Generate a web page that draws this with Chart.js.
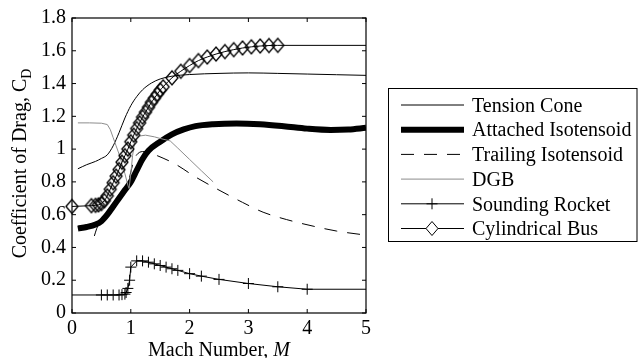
<!DOCTYPE html>
<html><head><meta charset="utf-8">
<script src="https://cdn.jsdelivr.net/npm/chart.js@4/dist/chart.umd.min.js"></script>
<style>html,body{margin:0;padding:0;background:#fff;}canvas{display:block;}</style>
</head><body>
<canvas id="c" width="638" height="358"></canvas>
<script>
// ---------------- data ----------------
const seriesNames = ['Tension Cone','Attached Isotensoid','Trailing Isotensoid','DGB','Sounding Rocket','Cylindrical Bus'];
const xTickValues = [0,1,2,3,4,5];
const xTickLabels = ['0','1','2','3','4','5'];
const yTickValues = [0,0.2,0.4,0.6,0.8,1.0,1.2,1.4,1.6,1.8];
const yTickLabels = ['0','0.2','0.4','0.6','0.8','1','1.2','1.4','1.6','1.8'];

const machTension = [0.1,0.25,0.4,0.5,0.6,0.7,0.8,0.9,1.0,1.1,1.2,1.35,1.5,1.7,2.0,2.5,3.0,3.5,4.0,4.5,5.0];
const cdTension   = [0.88,0.905,0.925,0.943,0.965,1.02,1.1,1.19,1.265,1.32,1.362,1.403,1.428,1.445,1.455,1.462,1.465,1.462,1.458,1.454,1.45];

const machAttached = [0.1,0.25,0.4,0.5,0.6,0.7,0.8,0.9,1.0,1.1,1.2,1.3,1.5,1.7,1.9,2.1,2.4,2.8,3.2,3.6,4.0,4.4,4.7,5.0];
const cdAttached   = [0.515,0.525,0.54,0.56,0.6,0.65,0.7,0.75,0.8,0.87,0.94,0.99,1.045,1.09,1.12,1.14,1.152,1.157,1.152,1.14,1.125,1.117,1.12,1.13];

const machTrailing = [0.38,0.42,0.46,0.55,0.65,0.75,0.85,0.95,1.0,1.05,1.1,1.2,1.3,1.45,1.75,2.1,2.5,2.9,3.25,3.65,4.1,4.5,5.0];
const cdTrailing   = [0.47,0.515,0.545,0.575,0.625,0.68,0.73,0.79,0.86,0.93,0.965,0.985,0.98,0.96,0.91,0.83,0.75,0.675,0.615,0.57,0.53,0.5,0.475];

const machDGB = [0.1,0.3,0.5,0.6,0.65,0.7,0.75,0.8,0.85,0.9,0.95,0.97,1.0,1.03,1.06,1.1,1.15,1.25,1.4,1.5,1.67,1.8,2.0,2.2,2.4];
const cdDGB   = [1.16,1.16,1.158,1.15,1.12,1.07,1.02,0.97,0.91,0.85,0.78,0.76,0.85,0.96,1.03,1.065,1.08,1.085,1.075,1.065,1.05,1.006,0.937,0.868,0.8];

const machRocket = [0,0.5,0.6,0.7,0.8,0.85,0.9,0.92,0.95,0.98,1.0,1.1,1.2,1.3,1.4,1.5,1.6,1.7,1.8,2.0,2.2,2.5,3.0,3.5,4.0,5.0];
const cdRocket   = [0.11,0.11,0.11,0.11,0.11,0.112,0.115,0.125,0.15,0.2,0.28,0.318,0.318,0.31,0.3,0.29,0.28,0.27,0.26,0.24,0.225,0.205,0.18,0.16,0.145,0.145];

const machBus = [0,0.33,0.4,0.45,0.5,0.55,0.6,0.65,0.7,0.75,0.8,0.85,0.9,0.95,1.0,1.05,1.1,1.15,1.2,1.25,1.3,1.35,1.4,1.45,1.5,1.55,1.7,1.85,2.0,2.15,2.3,2.45,2.6,2.75,2.9,3.05,3.2,3.35,3.5,5.0];
const cdBus   = [0.65,0.655,0.657,0.66,0.668,0.685,0.715,0.755,0.795,0.835,0.875,0.92,0.96,1.0,1.045,1.085,1.125,1.16,1.195,1.225,1.255,1.285,1.31,1.335,1.36,1.38,1.435,1.475,1.51,1.54,1.562,1.58,1.595,1.607,1.617,1.624,1.629,1.632,1.633,1.633];

// ---------------- helpers ----------------
const pts = (xs, ys) => xs.map((x, i) => ({x, y: ys[i]}));
const SERIF = "'Liberation Serif','Times New Roman','DejaVu Serif',serif";
const endsHidden = (r) => (c) => (c.dataIndex === 0 || c.dataIndex === c.dataset.data.length - 1) ? 0 : r;
const lastHidden = (r) => (c) => (c.dataIndex === c.dataset.data.length - 1) ? 0 : r;

// hollow diamond marker (slightly taller than wide, like MATLAB's 'd')
function makeDiamond(w, h) {
  const cv = document.createElement('canvas');
  cv.width = w + 4; cv.height = h + 4;
  const g = cv.getContext('2d');
  const cx = cv.width / 2, cy = cv.height / 2;
  g.strokeStyle = '#000'; g.lineWidth = 1.3;
  g.beginPath();
  g.moveTo(cx - w / 2, cy); g.lineTo(cx, cy - h / 2);
  g.lineTo(cx + w / 2, cy); g.lineTo(cx, cy + h / 2);
  g.closePath(); g.stroke();
  return cv;
}
const diamond = makeDiamond(12, 14);

const datasets = [
  {label: seriesNames[0], data: pts(machTension, cdTension), borderColor:'#000', borderWidth:1,
   pointRadius:0, cubicInterpolationMode:'monotone', order:6},
  {label: seriesNames[1], data: pts(machAttached, cdAttached), borderColor:'#000', borderWidth:6,
   pointRadius:0, cubicInterpolationMode:'monotone', order:5},
  {label: seriesNames[2], data: pts(machTrailing, cdTrailing), borderColor:'#000', borderWidth:1,
   borderDash:[13,10], pointRadius:0, cubicInterpolationMode:'monotone', order:4},
  {label: seriesNames[3], data: pts(machDGB, cdDGB), borderColor:'#8c8c8c', borderWidth:1,
   pointRadius:0, tension:0, order:3},
  {label: seriesNames[4], data: pts(machRocket, cdRocket), borderColor:'#000', borderWidth:1,
   pointStyle:'cross', pointRadius: endsHidden(5.5), pointBorderColor:'#000', pointBorderWidth:1,
   pointBackgroundColor:'transparent', tension:0, order:2, clip:false, legendMarker:'cross'},
  {label: seriesNames[5], data: pts(machBus, cdBus), borderColor:'#000', borderWidth:1,
   pointStyle: diamond, pointRadius: lastHidden(6), cubicInterpolationMode:'monotone',
   order:1, clip:false, legendMarker:'diamond'}
];

// ---------------- plugins ----------------
const framePlugin = {
  id: 'frame',
  afterDatasetsDraw(chart) {
    const {ctx, chartArea: a, scales: {x, y}} = chart;
    ctx.save();
    ctx.strokeStyle = '#000';
    ctx.lineWidth = 1.2;
    ctx.strokeRect(a.left, a.top, a.right - a.left, a.bottom - a.top);
    const tl = 4;
    ctx.lineWidth = 1;
    ctx.beginPath();
    xTickValues.forEach(v => {
      const px = x.getPixelForValue(v);
      ctx.moveTo(px, a.bottom); ctx.lineTo(px, a.bottom - tl);
      ctx.moveTo(px, a.top); ctx.lineTo(px, a.top + tl);
    });
    yTickValues.forEach(v => {
      const py = y.getPixelForValue(v);
      ctx.moveTo(a.left, py); ctx.lineTo(a.left + tl, py);
      ctx.moveTo(a.right, py); ctx.lineTo(a.right - tl, py);
    });
    ctx.stroke();

    // axis titles
    ctx.fillStyle = '#000';
    ctx.textBaseline = 'alphabetic';
    ctx.textAlign = 'left';
    const f1 = '20px ' + SERIF, fi = 'italic 20px ' + SERIF, fs = '14px ' + SERIF;
    ctx.font = f1;
    const t1 = 'Mach Number, ';
    const w1 = ctx.measureText(t1).width;
    ctx.font = fi;
    const w2 = ctx.measureText('M').width;
    const cx = (a.left + a.right) / 2;
    const sx = cx - (w1 + w2) / 2;
    ctx.font = f1; ctx.fillText(t1, sx, 356);
    ctx.font = fi; ctx.fillText('M', sx + w1, 356);

    ctx.save();
    ctx.translate(26, (a.top + a.bottom) / 2 - 2);
    ctx.rotate(-Math.PI / 2);
    const m = 'Coefficient of Drag, C';
    ctx.font = f1; const wm = ctx.measureText(m).width;
    ctx.font = fs; const ws = ctx.measureText('D').width;
    const st = -(wm + ws) / 2;
    ctx.font = f1; ctx.fillText(m, st, 0);
    ctx.font = fs; ctx.fillText('D', st + wm, 4.5);
    ctx.restore();
    ctx.restore();
  }
};

const legendPlugin = {
  id: 'boxLegend',
  afterDraw(chart) {
    const ctx = chart.ctx;
    ctx.save();
    ctx.strokeStyle = '#000';
    ctx.lineWidth = 1;
    ctx.strokeRect(388.5, 88.5, 248.5, 153);
    chart.data.datasets.forEach((ds, i) => {
      const yy = 105 + i * 24.7;
      ctx.save();
      ctx.strokeStyle = ds.borderColor;
      ctx.lineWidth = ds.borderWidth;
      ctx.setLineDash(ds.borderDash || []);
      ctx.beginPath();
      ctx.moveTo(401, yy); ctx.lineTo(464, yy);
      ctx.stroke();
      ctx.setLineDash([]);
      ctx.lineWidth = 1;
      ctx.strokeStyle = '#000';
      const mx = 432;
      if (ds.legendMarker === 'cross') {
        ctx.beginPath();
        ctx.moveTo(mx - 5.5, yy); ctx.lineTo(mx + 5.5, yy);
        ctx.moveTo(mx, yy - 5.5); ctx.lineTo(mx, yy + 5.5);
        ctx.stroke();
      } else if (ds.legendMarker === 'diamond') {
        ctx.fillStyle = '#fff';
        ctx.beginPath();
        ctx.moveTo(mx - 6, yy); ctx.lineTo(mx, yy - 7);
        ctx.lineTo(mx + 6, yy); ctx.lineTo(mx, yy + 7);
        ctx.closePath();
        ctx.fill(); ctx.stroke();
      }
      ctx.restore();
      ctx.fillStyle = '#000';
      ctx.font = '20px ' + SERIF;
      ctx.textAlign = 'left';
      ctx.textBaseline = 'alphabetic';
      ctx.fillText(ds.label, 472, yy + 6.7);
    });
    ctx.restore();
  }
};

new Chart(document.getElementById('c'), {
  type: 'line',
  data: { datasets },
  options: {
    responsive: false,
    animation: false,
    events: [],
    layout: { padding: { left: 0, top: 17, right: 272, bottom: 0 } },
    plugins: { legend: { display: false }, tooltip: { enabled: false } },
    scales: {
      x: {
        type: 'linear', min: 0, max: 5,
        grid: { display: false, drawTicks: false },
        border: { display: false },
        afterBuildTicks: s => { s.ticks = xTickValues.map(v => ({value: v})); },
        afterFit: s => { s.height = 45; },
        ticks: { padding: 4, color: '#000', font: { family: SERIF, size: 20 },
                 maxRotation: 0, autoSkip: false,
                 callback: v => xTickLabels[xTickValues.indexOf(v)] }
      },
      y: {
        type: 'linear', min: 0, max: 1.8,
        grid: { display: false, drawTicks: false },
        border: { display: false },
        afterBuildTicks: s => { s.ticks = yTickValues.map(v => ({value: v})); },
        afterFit: s => { s.width = 72; },
        ticks: { padding: 6, color: '#000', font: { family: SERIF, size: 20 }, autoSkip: false,
                 callback: v => { const i = yTickValues.findIndex(t => Math.abs(t - v) < 1e-9); return i >= 0 ? yTickLabels[i] : ''; } }
      }
    }
  },
  plugins: [framePlugin, legendPlugin]
});
</script>
</body></html>
